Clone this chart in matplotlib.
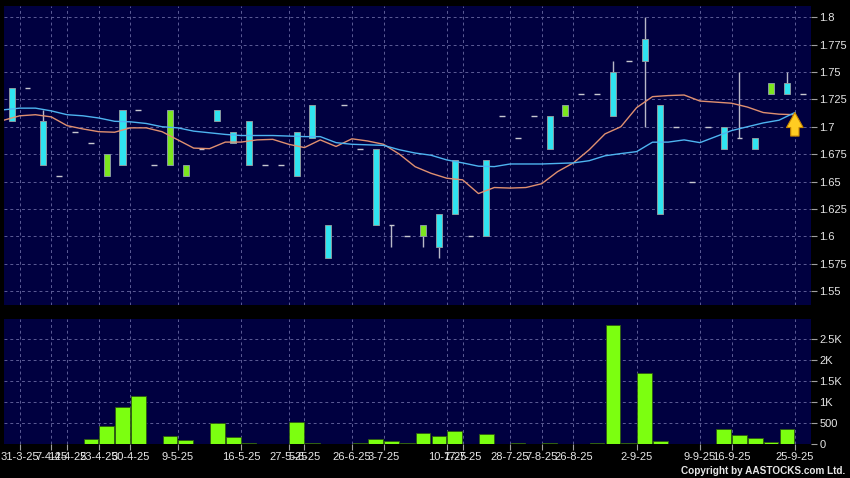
import numpy as np
import matplotlib.pyplot as plt

# x-axis dates (index of the slot where each date label sits)
dates = ["31-3-25", "7-4-25", "14-4-25", "23-4-25", "30-4-25", "9-5-25", "16-5-25",
         "27-5-25", "5-6-25", "26-6-25", "3-7-25", "10-7-25", "17-7-25", "28-7-25",
         "7-8-25", "26-8-25", "2-9-25", "9-9-25", "16-9-25", "25-9-25"]
date_slot = [1, 3, 4, 6, 8, 11, 15, 18, 19, 22, 24, 28, 29, 32, 34, 36, 40, 44, 46, 50]

open_ = [1.735, 1.735, 1.705, 1.655, 1.695, 1.685, 1.655, 1.715, 1.715, 1.665,
         1.665, 1.655, 1.68, 1.715, 1.695, 1.705, 1.665, 1.665, 1.695, 1.72,
         1.61, 1.72, 1.68, 1.68, 1.61, 1.60, 1.60, 1.62, 1.67, 1.60,
         1.67, 1.71, 1.69, 1.71, 1.71, 1.71, 1.73, 1.73, 1.75, 1.76,
         1.78, 1.72, 1.70, 1.65, 1.70, 1.70, 1.69, 1.69, 1.73, 1.74, 1.73]
high = [1.735, 1.735, 1.715, 1.655, 1.695, 1.685, 1.675, 1.715, 1.715, 1.665,
        1.715, 1.665, 1.68, 1.715, 1.695, 1.705, 1.665, 1.665, 1.695, 1.72,
        1.61, 1.72, 1.68, 1.68, 1.61, 1.60, 1.61, 1.62, 1.67, 1.60,
        1.67, 1.71, 1.69, 1.71, 1.71, 1.72, 1.73, 1.73, 1.76, 1.76,
        1.80, 1.72, 1.70, 1.65, 1.70, 1.70, 1.75, 1.69, 1.74, 1.75, 1.73]
low = [1.705, 1.735, 1.665, 1.655, 1.695, 1.685, 1.655, 1.665, 1.715, 1.665,
       1.665, 1.655, 1.68, 1.705, 1.685, 1.665, 1.665, 1.665, 1.655, 1.69,
       1.58, 1.72, 1.68, 1.61, 1.59, 1.60, 1.59, 1.58, 1.62, 1.60,
       1.60, 1.71, 1.69, 1.71, 1.68, 1.71, 1.73, 1.73, 1.71, 1.76,
       1.70, 1.62, 1.70, 1.65, 1.70, 1.68, 1.69, 1.68, 1.73, 1.73, 1.73]
close = [1.705, 1.735, 1.665, 1.655, 1.695, 1.685, 1.675, 1.665, 1.715, 1.665,
         1.715, 1.665, 1.68, 1.705, 1.685, 1.665, 1.665, 1.665, 1.655, 1.69,
         1.58, 1.72, 1.68, 1.61, 1.61, 1.60, 1.61, 1.59, 1.62, 1.60,
         1.60, 1.71, 1.69, 1.71, 1.68, 1.72, 1.73, 1.73, 1.71, 1.76,
         1.76, 1.62, 1.70, 1.65, 1.70, 1.68, 1.69, 1.68, 1.74, 1.73, 1.73]
volume = [0, 0, 0, 0, 0, 110, 414, 884, 1147, 0,
          175, 88, 0, 502, 167, 10, 0, 0, 518, 12,
          0, 0, 5, 120, 72, 8, 255, 175, 311, 0,
          231, 0, 5, 0, 5, 0, 0, 5, 2837, 12,
          1681, 72, 0, 0, 0, 358, 215, 136, 40, 358, 0]

ma_short = [1.706, 1.710, 1.711, 1.709, 1.701, 1.698, 1.6955, 1.695, 1.699, 1.699,
            1.6955, 1.688, 1.6805, 1.680, 1.686, 1.686, 1.688, 1.6885, 1.684, 1.681,
            1.688, 1.682, 1.689, 1.687, 1.684, 1.675, 1.6635, 1.6575, 1.653, 1.6515,
            1.639, 1.6445, 1.644, 1.6445, 1.648, 1.659, 1.667, 1.679, 1.6935, 1.700,
            1.7175, 1.7275, 1.7285, 1.729, 1.7235, 1.7225, 1.7215, 1.718, 1.713, 1.7115, 1.711]
ma_long = [1.7155, 1.717, 1.717, 1.7145, 1.711, 1.710, 1.708, 1.705, 1.7045, 1.703,
           1.700, 1.699, 1.696, 1.6945, 1.693, 1.692, 1.692, 1.692, 1.6915, 1.691,
           1.691, 1.6855, 1.684, 1.6835, 1.683, 1.679, 1.676, 1.674, 1.6697, 1.667,
           1.664, 1.6636, 1.666, 1.666, 1.666, 1.6665, 1.667, 1.669, 1.6735, 1.6755,
           1.6773, 1.6859, 1.686, 1.688, 1.6855, 1.691, 1.6965, 1.700, 1.7035, 1.706, 1.713]

price_ticks = [1.55, 1.575, 1.6, 1.625, 1.65, 1.675, 1.7, 1.725, 1.75, 1.775, 1.8]
vol_ticks = [0, 500, 1000, 1500, 2000, 2500]
vol_labels = ["0", "500", "1K", "1.5K", "2K", "2.5K"]

plt.rcParams['font.family'] = ['Liberation Sans', 'DejaVu Sans']

o = np.array(open_)
h = np.array(high)
l = np.array(low)
c = np.array(close)
x = np.arange(len(o))
slot = np.array(date_slot) - 0.5

bg = '#000040'
grid_col = '#5c5c96'
txt = '#e6e6e6'

fig = plt.figure(figsize=(8.5, 4.78), dpi=100, facecolor='black')
ax = fig.add_axes([4 / 850, 1 - 305 / 478, 807 / 850, 299 / 478], facecolor=bg)
axv = fig.add_axes([4 / 850, 1 - 443.7 / 478, 807 / 850, 124.7 / 478], facecolor=bg)

for a in (ax, axv):
    a.set_xlim(-0.49, 50.52)
    for s in a.spines.values():
        s.set_visible(False)
    a.set_xticks(slot)
    a.grid(True, color=grid_col, linestyle=(0, (3, 3)), linewidth=0.7)
    a.set_axisbelow(True)
    a.yaxis.tick_right()
    a.tick_params(axis='y', colors='#a0a0a0', labelcolor=txt, labelsize=8,
                  length=4, width=0.8, pad=2)

# candles
up = c > o
down = c < o
flat = c == o
ax.vlines(x[h > l], l[h > l], h[h > l], color='#b8b8c8', linewidth=1, zorder=2)
ax.bar(x[up], (c - o)[up], bottom=o[up], width=0.38, color='#7ce61e',
       edgecolor='#8a9aa0', linewidth=0.7, zorder=3)
ax.bar(x[down], (o - c)[down], bottom=c[down], width=0.38, color='#30e4f0',
       edgecolor='#8a9aa0', linewidth=0.7, zorder=3)
ax.hlines(o[flat], x[flat] - 0.18, x[flat] + 0.18, color='#c8c8d0',
          linewidth=1, zorder=3)

# moving averages
ax.plot(x - 0.5, ma_short, color='#e09070', linewidth=1, zorder=4)
ax.plot(x - 0.5, ma_long, color='#4eb4f0', linewidth=1, zorder=4)
ax.annotate('', xy=(x[-1] - 0.5, ma_long[-1]), xytext=(x[-1] - 0.5, ma_long[-1] - 0.0215),
            arrowprops=dict(arrowstyle='simple,head_length=0.9,head_width=1.0,tail_width=0.5',
                            fc='#ffcc22', ec='#c88400', lw=0.8, shrinkA=0, shrinkB=0,
                            mutation_scale=12), zorder=5)

ax.set_ylim(1.5372, 1.8103)
ax.set_yticks(price_ticks)
ax.set_yticklabels(['%g' % v for v in price_ticks])
ax.tick_params(axis='x', length=0, labelbottom=False)

# volume
axv.bar(x, volume, width=0.92, color='#7cff10', edgecolor='#2e5a10',
        linewidth=0.6, zorder=3)
axv.set_ylim(0, 2980)
axv.set_yticks(vol_ticks)
axv.set_yticklabels(vol_labels)
axv.set_xticklabels(dates)
axv.tick_params(axis='x', colors='#a0a0a0', labelcolor=txt, labelsize=8,
                length=4, width=0.8, pad=2)

fig.text(845 / 850, 2 / 478, "Copyright by AASTOCKS.com Ltd.", color=txt,
         fontsize=7.2, fontweight='bold', ha='right', va='bottom')

fig.savefig('out.png', dpi=100, facecolor='black')
